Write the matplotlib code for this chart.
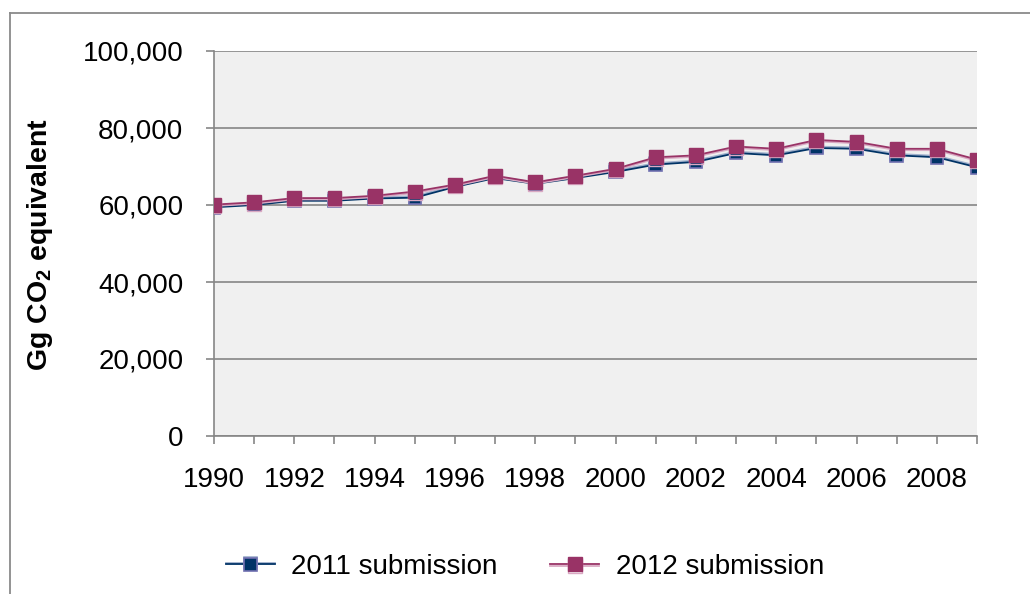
import matplotlib
matplotlib.use("Agg")
import matplotlib.pyplot as plt
import matplotlib.patheffects as pe
from matplotlib.lines import Line2D
from matplotlib.ticker import FuncFormatter, MultipleLocator

plt.rcParams['font.family'] = ['Liberation Sans', 'DejaVu Sans']
plt.rcParams['mathtext.fontset'] = 'custom'
plt.rcParams['mathtext.rm'] = 'Liberation Sans'
plt.rcParams['mathtext.bf'] = 'Liberation Sans:bold'

years = list(range(1990, 2010))
sub_2011 = [59400, 60000, 61100, 61100, 61700, 61900, 64700, 67000, 65500, 67000,
            68600, 70500, 71200, 73500, 72900, 74800, 74600, 72900, 72400, 69800]
sub_2012 = [60100, 60700, 61800, 61800, 62400, 63500, 65300, 67600, 65900, 67600,
            69400, 72400, 72900, 75200, 74600, 76900, 76400, 74600, 74600, 71800]
series_labels = ["2011 submission", "2012 submission"]
year_labels = list(range(1990, 2010, 2))

W, H, DPI = 1030, 594, 100
fig = plt.figure(figsize=(W / DPI, H / DPI), dpi=DPI)

# Outer chart frame (left and top edges)
frame_col = '#8a8a8a'
fig.add_artist(Line2D([10 / W, 10 / W], [0, 1 - 13 / H], color=frame_col, lw=1.3,
                      transform=fig.transFigure))
fig.add_artist(Line2D([10 / W, 1], [1 - 13 / H, 1 - 13 / H], color=frame_col, lw=1.3,
                      transform=fig.transFigure))

ax = fig.add_axes([214 / W, 1 - 436 / H, (977 - 214) / W, (436 - 51) / H])
ax.set_facecolor('#f0f0f0')

c11, c12 = '#003366', '#993366'
ax.plot(years, sub_2011, color=c11, lw=1.3, marker='s', ms=9,
        markerfacecolor=c11, markeredgecolor='#7070b0', markeredgewidth=1.2,
        label=series_labels[0], zorder=3,
        path_effects=[pe.SimpleLineShadow(offset=(0, 1), shadow_color='#9fb0cc', alpha=1.0), pe.Normal()])
ax.plot(years, sub_2012, color=c12, lw=1.3, marker='s', ms=10,
        markerfacecolor=c12, markeredgecolor=c12, markeredgewidth=1.0,
        label=series_labels[1], zorder=4,
        path_effects=[pe.SimpleLineShadow(offset=(0, -1), shadow_color='#d9a9c3', alpha=1.0), pe.Normal()])

ax.set_xlim(1990, 2009)
ax.set_ylim(0, 100000)
ax.yaxis.set_major_locator(MultipleLocator(20000))
ax.yaxis.set_major_formatter(FuncFormatter(lambda v, p: f"{int(v):,}"))
ax.set_xticks(years)
ax.set_xticklabels([str(y) if y in year_labels else '' for y in years])

grid_col = '#868686'
ax.grid(axis='y', color=grid_col, lw=1.2)
ax.set_axisbelow(True)
for s in ['top', 'right']:
    ax.spines[s].set_visible(False)
for s in ['left', 'bottom']:
    ax.spines[s].set_color(grid_col)
    ax.spines[s].set_linewidth(1.2)

ax.tick_params(axis='y', length=6, color=grid_col, width=1.2, pad=16, labelsize=20)
ax.tick_params(axis='x', length=6, color=grid_col, width=1.2, pad=16, labelsize=20)

fig.text(40 / W, 1 - 245 / H, r'Gg CO$_\mathbf{2}$ equivalent', rotation=90,
         ha='center', va='center', fontsize=20.5, fontweight='bold')

leg = fig.legend(loc='center', bbox_to_anchor=(525 / W, 1 - 567 / H), ncol=2,
                 frameon=False, fontsize=20, handlelength=1.75, columnspacing=1.9,
                 handletextpad=0.6)

fig.savefig('out.png', dpi=DPI)
